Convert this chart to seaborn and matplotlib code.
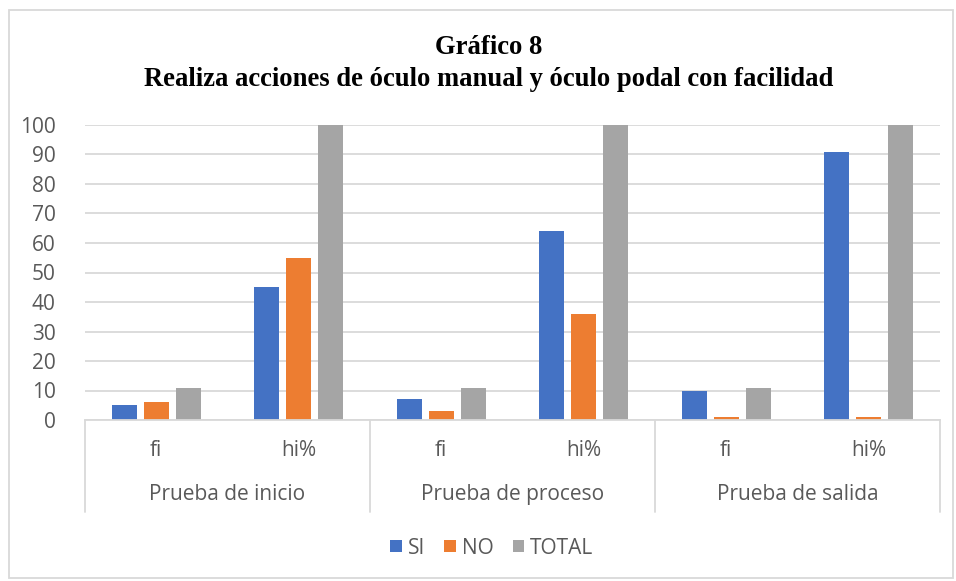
import matplotlib
matplotlib.use("Agg")
import matplotlib.pyplot as plt
from matplotlib.patches import Rectangle, Patch
import seaborn as sns
import pandas as pd

# Data
grupos = ["Prueba de inicio", "Prueba de proceso", "Prueba de salida"]
medidas = ["fi", "hi%"]
series = ["SI", "NO", "TOTAL"]
si_vals = [5, 45, 7, 64, 10, 91]
no_vals = [6, 55, 3, 36, 1, 1]
total_vals = [11, 100, 11, 100, 11, 100]
colores = ["#4472C4", "#ED7D31", "#A5A5A5"]

cats = [f"{g}|{m}" for g in grupos for m in medidas]
rows = []
for nombre, vals in zip(series, [si_vals, no_vals, total_vals]):
    for c, v in zip(cats, vals):
        rows.append({"cat": c, "serie": nombre, "valor": v})
df = pd.DataFrame(rows)

sns.set_theme(style="white")
plt.rcParams["font.family"] = ["Open Sans", "DejaVu Sans"]
gris_txt = "#595959"
gris_lin = "#D9D9D9"
fs = 15

W, H = 956, 581
fig = plt.figure(figsize=(W / 100, H / 100), dpi=100)
ax = fig.add_axes([85 / W, 1 - 420 / H, (940 - 85) / W, (420 - 125) / H])

sns.barplot(data=df, x="cat", y="valor", hue="serie", order=cats,
            hue_order=series, palette=colores, saturation=1, width=0.675,
            gap=0.22, linewidth=0, ax=ax, legend=False)

ax.set_ylim(0, 100)
ax.set_xlim(-0.5, len(cats) - 0.5)
ax.set_yticks(range(0, 101, 10))
ax.yaxis.grid(True, color=gris_lin, linewidth=1.3)
ax.set_axisbelow(True)
ax.tick_params(axis="y", length=0, pad=21, labelsize=fs, labelcolor=gris_txt)
ax.tick_params(axis="x", length=0)
ax.set_xticklabels([])
ax.set_xlabel("")
ax.set_ylabel("")
for s in ["top", "right", "left"]:
    ax.spines[s].set_visible(False)
ax.spines["bottom"].set_color(gris_lin)
ax.spines["bottom"].set_linewidth(1.3)

# Multi-level category axis
trans = ax.get_xaxis_transform()
for xb in [-0.5, 1.5, 3.5, 5.5]:
    ax.plot([xb, xb], [0, -0.312], transform=trans, color=gris_lin,
            linewidth=1.3, clip_on=False)
for i, c in enumerate(cats):
    ax.text(i, -0.102, c.split("|")[1], transform=trans, ha="center",
            va="center", fontsize=fs, color=gris_txt)
for j, g in enumerate(grupos):
    ax.text(2 * j + 0.5, -0.254, g, transform=trans, ha="center",
            va="center", fontsize=fs, color=gris_txt)

# Title
fig.text(489 / W, 1 - 47 / H, "Gráfico 8", ha="center", va="center",
         fontsize=19.2, fontweight="bold", family="Liberation Serif",
         color="black")
fig.text(489 / W, 1 - 80 / H,
         "Realiza acciones de óculo manual y óculo podal con facilidad",
         ha="center", va="center", fontsize=19.2, fontweight="bold",
         family="Liberation Serif", color="black")

# Legend
handles = [Patch(facecolor=c, edgecolor="none", label=s)
           for s, c in zip(series, colores)]
fig.legend(handles=handles, loc="center", bbox_to_anchor=(492 / W, 1 - 548 / H),
           ncol=3, frameon=False, fontsize=fs, labelcolor=gris_txt,
           handlelength=0.55, handleheight=0.55, handletextpad=0.3,
           columnspacing=0.9)

# Chart border
fig.patches.append(Rectangle((9 / W, 1 - 578 / H), (953 - 9) / W, (578 - 10) / H,
                             transform=fig.transFigure, fill=False,
                             edgecolor=gris_lin, linewidth=1.3))

fig.savefig("out.png", dpi=100, facecolor="white")
